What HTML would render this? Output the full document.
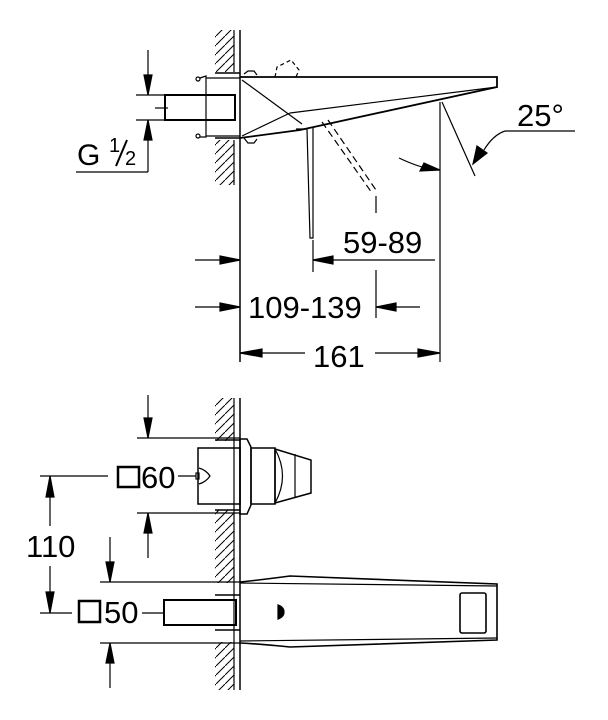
<!DOCTYPE html>
<html><head><meta charset="utf-8"><style>
html,body{margin:0;padding:0;background:#fff;}
svg{display:block;}
text{font-family:"Liberation Sans",sans-serif;fill:#000;}
</style></head><body>
<svg width="608" height="720" viewBox="0 0 608 720" xmlns="http://www.w3.org/2000/svg" stroke="#000" fill="none" stroke-width="1.2">
<defs>
<pattern id="h" width="9" height="9" patternUnits="userSpaceOnUse">
<line x1="-1" y1="10" x2="10" y2="-1" stroke="#000" stroke-width="1"/>
</pattern>
</defs>
<!-- ===== TOP VIEW ===== -->
<rect x="215" y="30" width="19" height="42" fill="url(#h)" stroke="none"/>
<rect x="215" y="140" width="19" height="45" fill="url(#h)" stroke="none"/>
<line x1="234" y1="30" x2="234" y2="72"/>
<line x1="234" y1="140" x2="234" y2="185"/>
<line x1="240" y1="30" x2="240" y2="362" stroke-width="1.5"/>
<line x1="215" y1="73" x2="240" y2="73" stroke-width="1.5"/>
<line x1="215" y1="138" x2="240" y2="138" stroke-width="1.5"/>
<polyline points="200,78 206,76 206,137 200,137" />
<line x1="206" y1="78" x2="240" y2="78"/>
<line x1="206" y1="136" x2="240" y2="136"/>
<circle cx="198" cy="79" r="2"/>
<circle cx="198" cy="136" r="2"/>
<rect x="165" y="95" width="70" height="25" stroke-width="2"/>
<line x1="155" y1="108" x2="168" y2="108"/>
<polyline points="240,77 497,77 497,87 300,130 240,138" stroke-width="1.8"/>
<line x1="242" y1="80" x2="302" y2="124"/>
<line x1="242" y1="136" x2="290" y2="113"/>
<line x1="290" y1="113" x2="497" y2="87"/>
<path d="M244,74 l4,-3 l6,0 l3,4 M244,138 l4,5 l6,0 l3,-4"/>
<polyline points="296,129 307,129 310,238 313,238 313,127" />
<path d="M275,77 l2,-10 l14,-7 l8,10 l-3,7" stroke-dasharray="4,3"/>
<line x1="322" y1="122" x2="372" y2="193" stroke-dasharray="7,4" />
<line x1="328" y1="120" x2="376" y2="190" stroke-dasharray="7,4" />
<line x1="376" y1="196" x2="376" y2="213"/>
<line x1="440" y1="102" x2="440" y2="362"/>
<line x1="442" y1="102" x2="475" y2="176"/>
<path d="M399,158 Q420,168 436,170"/>
<polygon points="440,170 420,171 424,163" fill="#000"/>
<path d="M505,131 Q493,135 484,150"/>
<polygon points="473,164 477,146 487,153" fill="#000"/>
<line x1="505" y1="131" x2="575" y2="131"/>
<text x="517" y="126" font-size="31" stroke="none">25°</text>
<!-- G1/2 -->
<line x1="148" y1="50" x2="148" y2="95"/>
<polygon points="148,95 144,75 152,75" fill="#000"/>
<line x1="148" y1="120" x2="148" y2="172"/>
<polygon points="148,120 144,140 152,140" fill="#000"/>
<line x1="136" y1="95" x2="165" y2="95"/>
<line x1="136" y1="120" x2="165" y2="120"/>
<line x1="76" y1="172" x2="148" y2="172"/>
<text x="77" y="165" font-size="30" stroke="none">G</text>
<text x="109" y="152" font-size="20" stroke="none">1</text>
<line x1="127" y1="140" x2="116" y2="166" stroke-width="2"/>
<text x="125" y="165" font-size="20" stroke="none">2</text>
<!-- 59-89 -->
<line x1="313" y1="240" x2="313" y2="272"/>
<line x1="313" y1="260" x2="435" y2="260"/>
<polygon points="313,260 333,256 333,264" fill="#000"/>
<line x1="195" y1="260" x2="240" y2="260"/>
<polygon points="240,260 220,256 220,264" fill="#000"/>
<text x="343" y="253" font-size="31" stroke="none">59-89</text>
<!-- 109-139 -->
<line x1="376" y1="270" x2="376" y2="318"/>
<line x1="376" y1="307" x2="420" y2="307"/>
<polygon points="376,307 396,303 396,311" fill="#000"/>
<line x1="195" y1="307" x2="240" y2="307"/>
<polygon points="240,307 220,303 220,311" fill="#000"/>
<text x="248" y="318" font-size="31" stroke="none">109-139</text>
<!-- 161 -->
<line x1="240" y1="353" x2="305" y2="353"/>
<line x1="375" y1="353" x2="440" y2="353"/>
<polygon points="240,353 262,349 262,357" fill="#000"/>
<polygon points="440,353 418,349 418,357" fill="#000"/>
<text x="313" y="367" font-size="31" stroke="none">161</text>

<!-- ===== BOTTOM VIEW ===== -->
<rect x="215" y="398" width="19" height="292" fill="url(#h)" stroke="none"/>
<rect x="215" y="441" width="25" height="69" fill="#fff" stroke="none"/>
<rect x="215" y="583" width="25" height="59" fill="#fff" stroke="none"/>
<line x1="234" y1="398" x2="234" y2="690"/>
<line x1="240" y1="398" x2="240" y2="690" stroke-width="1.5"/>
<line x1="215" y1="440" x2="240" y2="440" stroke-width="1.5"/>
<line x1="215" y1="510" x2="240" y2="510" stroke-width="1.5"/>
<rect x="198" y="448" width="42" height="56" stroke-width="1.5"/>
<polygon points="240,439 247,439 251,447 251,505 247,514 240,514" stroke-width="1.5"/>
<rect x="251" y="448" width="24" height="56" stroke-width="1.5"/>
<polygon points="275,449 311,460 311,493 275,503" stroke-width="1.5"/>
<path d="M275,449 Q290,476 275,503"/>
<line x1="295" y1="454" x2="295" y2="498"/>
<path d="M199,468 Q206,470 210,476 Q206,482 199,484"/>
<rect x="196" y="473" width="3" height="6"/>
<line x1="137" y1="438" x2="240" y2="438"/>
<line x1="137" y1="513" x2="240" y2="513"/>
<line x1="148" y1="395" x2="148" y2="438"/>
<polygon points="148,438 144,418 152,418" fill="#000"/>
<line x1="148" y1="513" x2="148" y2="558"/>
<polygon points="148,513 144,533 152,533" fill="#000"/>
<rect x="118" y="467" width="21" height="20" stroke-width="2.5"/>
<text x="141" y="488" font-size="31" stroke="none">60</text>
<line x1="178" y1="476" x2="196" y2="476"/>
<line x1="40" y1="476" x2="108" y2="476"/>
<line x1="40" y1="613" x2="72" y2="613"/>
<line x1="50" y1="476" x2="50" y2="526"/>
<line x1="50" y1="566" x2="50" y2="613"/>
<polygon points="50,476 46,497 54,497" fill="#000"/>
<polygon points="50,613 46,592 54,592" fill="#000"/>
<text x="26" y="557" font-size="31" stroke="none">110</text>
<line x1="100" y1="582" x2="240" y2="582"/>
<line x1="100" y1="643" x2="240" y2="643"/>
<line x1="110" y1="537" x2="110" y2="582"/>
<polygon points="110,582 106,562 114,562" fill="#000"/>
<line x1="110" y1="643" x2="110" y2="688"/>
<polygon points="110,643 106,663 114,663" fill="#000"/>
<line x1="215" y1="595" x2="240" y2="595" stroke-width="1.5"/>
<line x1="215" y1="630" x2="240" y2="630" stroke-width="1.5"/>
<rect x="79" y="601" width="21" height="21" stroke-width="2.5"/>
<text x="104" y="623" font-size="31" stroke="none">50</text>
<line x1="142" y1="613" x2="163" y2="613"/>
<rect x="164" y="600" width="72" height="25" stroke-width="2"/>
<path d="M240,582 Q260,580 290,576 L497,584 L497,640 L290,647 Q260,644 240,643" stroke-width="1.6"/>
<line x1="240" y1="583" x2="497" y2="586"/>
<line x1="240" y1="641" x2="497" y2="638"/>
<rect x="460" y="593" width="26" height="40" rx="2" stroke-width="1.6"/>
<path d="M278,605 q6,2 6,7 q0,5 -6,7 z" fill="#000"/>
</svg>
</body></html>
